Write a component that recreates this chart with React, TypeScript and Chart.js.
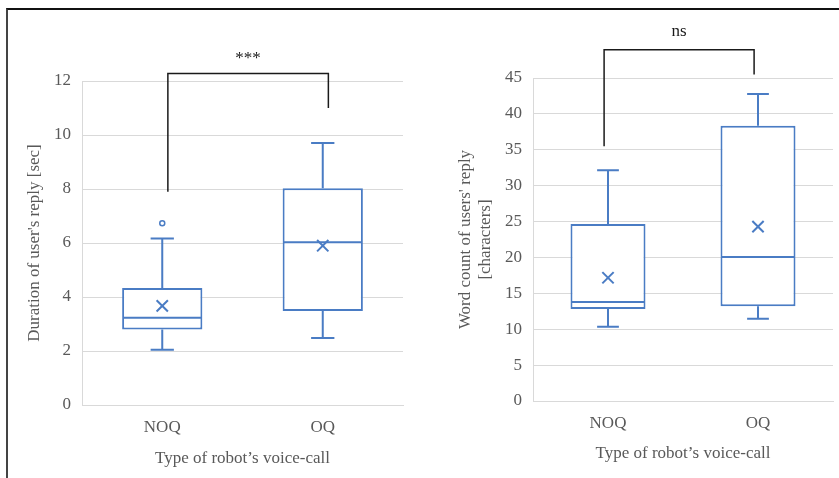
import React, { useEffect, useRef } from 'react';
import { Chart, registerables } from 'chart.js';

Chart.register(...registerables);

// ---------- data ----------
const categories = ['NOQ', 'OQ'];

// Left panel: duration of user's reply [sec]
const durationMin = [2.05, 2.48];
const durationQ1 = [2.8, 3.48];
const durationMedian = [3.23, 6.03];
const durationQ3 = [4.33, 8.03];
const durationMax = [6.17, 9.7];
const durationMean = [3.67, 5.9];
const durationOutliers = [6.73, null];
const durationBracketLegs = [7.9, 11.0];
const durationBracketTop = 12.28;
const durationSignificance = '***';
const durationAxisMax = 12;
const durationAxisStep = 2;

// Right panel: word count of users' reply [characters]
const wordMin = [10.33, 11.45];
const wordQ1 = [12.8, 13.2];
const wordMedian = [13.8, 20.06];
const wordQ3 = [24.66, 38.35];
const wordMax = [32.16, 42.77];
const wordMean = [17.17, 24.3];
const wordOutliers = [null, null];
const wordBracketLegs = [35.5, 45.5];
const wordBracketTop = 48.95;
const wordSignificance = 'ns';
const wordAxisMax = 45;
const wordAxisStep = 5;

// ---------- styles ----------
const BLUE = '#4a7cc4';
const GRAY_TEXT = '#595959';
const GRID = '#d9d9d9';
const FONT_FAMILY = "'Liberation Serif', 'Times New Roman', serif";

type PanelCfg = {
  min: number[];
  q1: number[];
  median: number[];
  q3: number[];
  max: number[];
  mean: number[];
  outliers: (number | null)[];
  bracketLegs: number[];
  bracketTop: number;
  bracketShift: number;
  significance: string;
  labelOffset: number;
  axisMax: number;
  axisStep: number;
  yTitle: string | string[];
  yTitlePad: number;
  xTitlePad: number;
  padTop: number;
  padRight: number;
  yWidth: number;
  xHeight: number;
};

const boxExtras = {
  id: 'boxExtras',
  afterDatasetsDraw(chart: any, _args: any, opts: any) {
    const cfg: PanelCfg = opts.cfg;
    if (!cfg) return;
    const { ctx } = chart;
    const x = chart.scales.x;
    const y = chart.scales.y;
    const meta = chart.getDatasetMeta(0);
    ctx.save();
    ctx.strokeStyle = BLUE;
    ctx.lineWidth = 2;
    ctx.lineCap = 'butt';
    meta.data.forEach((bar: any, i: number) => {
      const cx = bar.x;
      const half = bar.width / 2 - 1;
      const cap = bar.width * 0.145;
      const pMed = y.getPixelForValue(cfg.median[i]);
      const pQ1 = y.getPixelForValue(cfg.q1[i]);
      const pQ3 = y.getPixelForValue(cfg.q3[i]);
      const pMin = y.getPixelForValue(cfg.min[i]);
      const pMax = y.getPixelForValue(cfg.max[i]);
      ctx.beginPath();
      ctx.moveTo(cx - half, pMed);
      ctx.lineTo(cx + half, pMed);
      ctx.moveTo(cx, pQ3);
      ctx.lineTo(cx, pMax);
      ctx.moveTo(cx - cap, pMax);
      ctx.lineTo(cx + cap, pMax);
      ctx.moveTo(cx, pQ1);
      ctx.lineTo(cx, pMin);
      ctx.moveTo(cx - cap, pMin);
      ctx.lineTo(cx + cap, pMin);
      ctx.stroke();
    });
    // significance bracket
    const xa = x.getPixelForValue(0 + cfg.bracketShift);
    const xb = x.getPixelForValue(1 + cfg.bracketShift);
    const yTop = y.getPixelForValue(cfg.bracketTop);
    ctx.strokeStyle = '#1a1a1a';
    ctx.lineWidth = 1.5;
    ctx.beginPath();
    ctx.moveTo(xa, y.getPixelForValue(cfg.bracketLegs[0]));
    ctx.lineTo(xa, yTop);
    ctx.lineTo(xb, yTop);
    ctx.lineTo(xb, y.getPixelForValue(cfg.bracketLegs[1]));
    ctx.stroke();
    ctx.fillStyle = '#1a1a1a';
    ctx.font = `17px ${FONT_FAMILY}`;
    ctx.textAlign = 'center';
    ctx.textBaseline = 'middle';
    ctx.fillText(cfg.significance, (xa + xb) / 2, yTop - cfg.labelOffset);
    ctx.restore();
  },
};

function buildChart(canvas: HTMLCanvasElement, cfg: PanelCfg) {
  const tickFont = { family: FONT_FAMILY, size: 17 };
  return new Chart(canvas, {
    type: 'bar',
    data: {
      labels: categories,
      datasets: [
        {
          type: 'bar',
          data: cfg.q1.map((v, i) => [v, cfg.q3[i]]) as any,
          backgroundColor: '#ffffff',
          borderColor: BLUE,
          borderWidth: 2,
          borderSkipped: false,
          barPercentage: 0.5,
          categoryPercentage: 1,
          order: 3,
        },
        {
          type: 'line',
          data: cfg.mean as any,
          showLine: false,
          pointStyle: 'crossRot',
          pointRadius: 8,
          pointBorderWidth: 2,
          pointBorderColor: BLUE,
          pointBackgroundColor: BLUE,
          order: 1,
        } as any,
        {
          type: 'line',
          data: cfg.outliers as any,
          showLine: false,
          pointStyle: 'circle',
          pointRadius: 2.5,
          pointBorderWidth: 1.5,
          pointBorderColor: BLUE,
          pointBackgroundColor: '#ffffff',
          order: 1,
        } as any,
      ],
    },
    options: {
      responsive: false,
      animation: false,
      events: [],
      layout: {
        autoPadding: false,
        padding: { top: cfg.padTop, right: cfg.padRight, left: 0, bottom: 0 },
      },
      plugins: {
        legend: { display: false },
        tooltip: { enabled: false },
        boxExtras: { cfg },
      } as any,
      scales: {
        x: {
          offset: true,
          grid: { display: false, drawTicks: false },
          border: { display: true, color: GRID, width: 1 },
          ticks: { font: tickFont, color: GRAY_TEXT, padding: 12 },
          title: {
            display: true,
            text: 'Type of robot’s voice-call',
            font: tickFont,
            color: GRAY_TEXT,
            padding: { top: 0, bottom: cfg.xTitlePad },
          },
          afterFit: (s: any) => {
            s.height = cfg.xHeight;
          },
        },
        y: {
          min: 0,
          max: cfg.axisMax,
          grid: { color: GRID, lineWidth: 1, drawTicks: false },
          border: { display: true, color: GRID, width: 1 },
          ticks: {
            stepSize: cfg.axisStep,
            font: tickFont,
            color: GRAY_TEXT,
            padding: 11,
          },
          title: {
            display: true,
            text: cfg.yTitle,
            font: { ...tickFont, lineHeight: 1.2 },
            color: GRAY_TEXT,
            padding: { top: cfg.yTitlePad, bottom: 0 },
          },
          afterFit: (s: any) => {
            s.width = cfg.yWidth;
          },
        },
      },
    } as any,
    plugins: [boxExtras as any],
  });
}

const leftCfg: PanelCfg = {
  min: durationMin,
  q1: durationQ1,
  median: durationMedian,
  q3: durationQ3,
  max: durationMax,
  mean: durationMean,
  outliers: durationOutliers,
  bracketLegs: durationBracketLegs,
  bracketTop: durationBracketTop,
  bracketShift: 0.035,
  significance: durationSignificance,
  labelOffset: 15,
  axisMax: durationAxisMax,
  axisStep: durationAxisStep,
  yTitle: 'Duration of user\'s reply [sec]',
  yTitlePad: 24,
  xTitlePad: 9.5,
  padTop: 81,
  padRight: 17,
  yWidth: 82,
  xHeight: 73,
};

const rightCfg: PanelCfg = {
  min: wordMin,
  q1: wordQ1,
  median: wordMedian,
  q3: wordQ3,
  max: wordMax,
  mean: wordMean,
  outliers: wordOutliers,
  bracketLegs: wordBracketLegs,
  bracketTop: wordBracketTop,
  bracketShift: -0.026,
  significance: wordSignificance,
  labelOffset: 18,
  axisMax: wordAxisMax,
  axisStep: wordAxisStep,
  yTitle: ['Word count of users\' reply', '[characters]'],
  yTitlePad: 35,
  xTitlePad: 14,
  padTop: 78,
  padRight: 6,
  yWidth: 113,
  xHeight: 77,
};

export default function App() {
  const leftRef = useRef<HTMLCanvasElement>(null);
  const rightRef = useRef<HTMLCanvasElement>(null);

  useEffect(() => {
    const c1 = buildChart(leftRef.current!, leftCfg);
    const c2 = buildChart(rightRef.current!, rightCfg);
    return () => {
      c1.destroy();
      c2.destroy();
    };
  }, []);

  return (
    <div
      style={{
        position: 'fixed',
        left: 0,
        top: 0,
        width: 839,
        height: 478,
        background: '#ffffff',
        overflow: 'hidden',
      }}
    >
      <canvas
        ref={leftRef}
        width={420}
        height={478}
        style={{ position: 'absolute', left: 0, top: 0, width: 420, height: 478 }}
      />
      <canvas
        ref={rightRef}
        width={419}
        height={478}
        style={{ position: 'absolute', left: 420, top: 0, width: 419, height: 478 }}
      />
      <div
        style={{
          position: 'absolute',
          left: 6,
          top: 8,
          width: 833,
          height: 470,
          borderTop: '2px solid #111111',
          borderLeft: '2px solid #444444',
          boxSizing: 'border-box',
          pointerEvents: 'none',
        }}
      />
    </div>
  );
}
